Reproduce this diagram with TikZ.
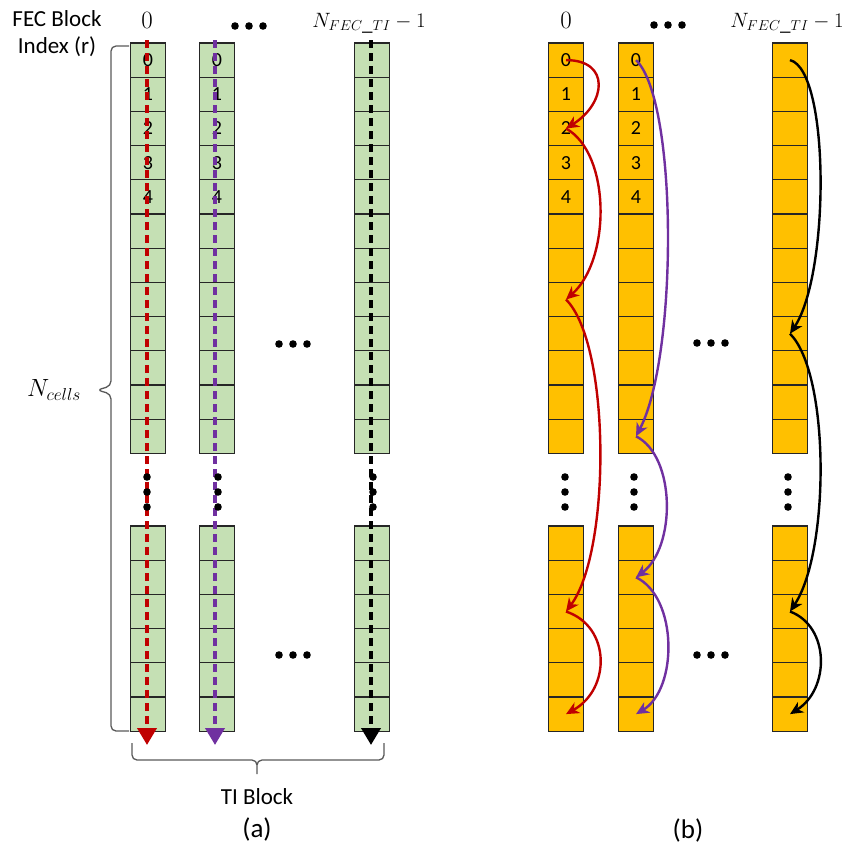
\documentclass[tikz,border=0pt]{standalone}
\usepackage[no-math]{fontspec}
\setmainfont{Carlito}
\usetikzlibrary{arrows.meta}
\definecolor{cellgreen}{RGB}{197,224,180}
\definecolor{cellorange}{RGB}{255,192,0}
\definecolor{flowred}{RGB}{192,0,0}
\definecolor{flowpurple}{RGB}{112,48,160}
\newcommand\cellfont{\fontsize{20}{24}\selectfont}
\newcommand\labelfont{\fontsize{23}{27}\selectfont}
\newcommand\mathlabel{\fontsize{21}{25}\selectfont}
\tikzset{
  cell/.style={draw=black!85,line width=1.1pt,minimum width=34.5pt,minimum height=34.2pt,inner sep=0pt,font=\cellfont},
  greencell/.style={cell,fill=cellgreen},
  orangecell/.style={cell,fill=cellorange},
  flowline/.style={line width=3.8pt,dash pattern=on 8pt off 5pt,-{Triangle[length=17pt,width=19pt]}},
  hop/.style={line width=2.4pt,-{Stealth[length=13pt,width=12pt,inset=4pt]}},
  brace/.style={draw=black!65,line width=1.3pt,rounded corners=5pt},
}

\begin{document}
\begin{tikzpicture}[x=1pt,y=-1pt]
\useasboundingbox (0,0) rectangle (849,852);
% (a): cell columns, top part (12 rows) and bottom part (6 rows)
\foreach \c/\x in {1/148,2/217,3/372}{
  \foreach \r in {0,...,11}
    \node[greencell] (a\c-\r) at (\x,{60.1+34.2*\r}) {\ifnum\c<3 \ifnum\r<5 \r\fi\fi};
  \foreach \r in {0,...,5}
    \node[greencell] (a\c-b\r) at (\x,{543.1+34.2*\r}) {};
}
% (b): same columns, orange
\foreach \c/\x in {1/566,2/636,3/790}{
  \foreach \r in {0,...,11}
    \node[orangecell] (b\c-\r) at (\x,{60.1+34.2*\r}) {\ifnum\c<3 \ifnum\r<5 \r\fi\fi};
  \foreach \r in {0,...,5}
    \node[orangecell] (b\c-b\r) at (\x,{543.1+34.2*\r}) {};
}
% column headers
\node[font=\fontsize{23}{27}\selectfont] (ha1) at (147,20) {$0$};
\node[font=\mathlabel] (ha3) at (369,23) {$N_{FEC\_TI}-1$};
\node[font=\fontsize{23}{27}\selectfont] (hb1) at (566,20) {$0$};
\node[font=\mathlabel] (hb3) at (787,23) {$N_{FEC\_TI}-1$};
\node[font=\labelfont,align=center] (idx) at (57,34) {FEC Block\\Index (r)};
% (a): dashed read-out arrows
\coordinate (enda1) at (147,745);
\coordinate (enda2) at (215,745);
\coordinate (enda3) at (371,745);
\draw[flowline,flowred] ([xshift=-1pt,yshift=2pt]a1-0.north) -- (enda1);
\draw[flowline,flowpurple] ([xshift=-2pt,yshift=2pt]a2-0.north) -- (enda2);
\draw[flowline,black] ([xshift=-1pt,yshift=2pt]a3-0.north) -- (enda3);
% vertical dots between the two parts
\foreach \x in {147,218,373,565,634,788}
  \foreach \y in {477,492,507}
    \fill (\x,\y) circle (3.8pt);
% horizontal dots
\foreach \x/\y in {249/26,668/25,293/344,711/343,293/655,711/655}
  \foreach \dx in {-14,0,14}
    \fill (\x+\dx,\y) circle (3.8pt);
% (b): hopping arrows
\draw[hop,flowred] (b1-0.center) .. controls +(45,0) and +(40,-25) .. (b1-2.center);
\draw[hop,flowred] (b1-2.center) .. controls +(45,25) and +(45,-40) .. (b1-7.center);
\draw[hop,flowred] (b1-7.center) .. controls +(45,45) and +(45,-60) .. (b1-b2.center);
\draw[hop,flowred] (b1-b2.center) .. controls +(45,15) and +(45,-25) .. (b1-b5.center);
\draw[hop,flowpurple] (b2-0.center) .. controls +(42,40) and +(42,-80) .. (b2-11.center);
\draw[hop,flowpurple] (b2-11.center) .. controls +(40,20) and +(40,-30) .. (b2-b1.center);
\draw[hop,flowpurple] (b2-b1.center) .. controls +(42,20) and +(42,-25) .. (b2-b5.center);
\draw[hop,black] (b3-0.center) .. controls +(40,10) and +(40,-60) .. (b3-8.center);
\draw[hop,black] (b3-8.center) .. controls +(40,40) and +(40,-60) .. (b3-b2.center);
\draw[hop,black] (b3-b2.center) .. controls +(40,15) and +(40,-25) .. (b3-b5.center);
% braces
\draw[brace] (129,46) -- (111,46) -- (111,386) -- (97,390) -- (111,394) -- (111,731) -- (129,731);
\node[font=\fontsize{25}{29}\selectfont] (ncells) at (54,390) {$N_{cells}$};
\draw[brace] (132,743) -- (132,760) -- (257,760) -- (257,777) -- (257,760) -- (384,760) -- (384,743);
\node[font=\labelfont] (tib) at (257,797) {TI Block};
% panel captions
\node[font=\fontsize{27}{30}\selectfont] (capa) at (257,829) {(a)};
\node[font=\fontsize{27}{30}\selectfont] (capb) at (688,830) {(b)};
\end{tikzpicture}
\end{document}
